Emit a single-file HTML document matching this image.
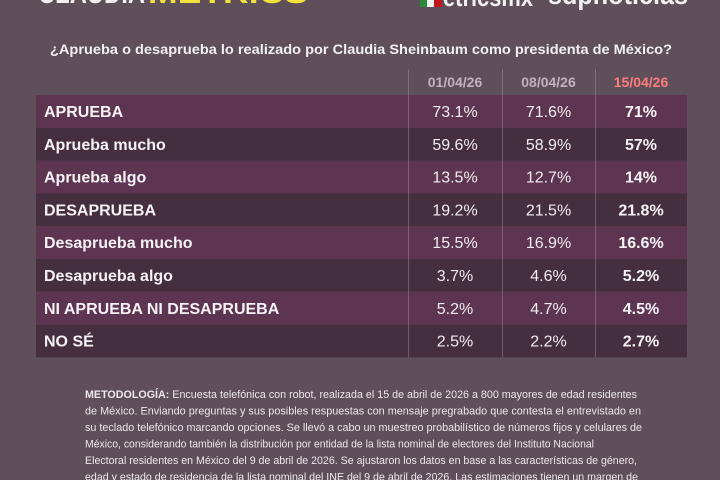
<!DOCTYPE html>
<html>
<head>
<meta charset="utf-8">
<style>
  html, body { margin:0; padding:0; background:#5e4f5b; }
  svg { display:block; }
  text { font-family: "Liberation Sans", Arial, sans-serif; }
</style>
</head>
<body>
<svg width="720" height="480" viewBox="0 0 720 480" xmlns="http://www.w3.org/2000/svg">
  <rect x="0" y="0" width="720" height="480" fill="#5e4f5b"/>

  <!-- top logos (cut off) -->
  <text x="38" y="3" font-size="30" font-weight="bold" fill="#f4f0f2" textLength="107" lengthAdjust="spacingAndGlyphs">CLAUDIA</text>
  <text x="148" y="3" font-size="30" font-weight="bold" fill="#f2e33c" textLength="160" lengthAdjust="spacingAndGlyphs">METRICS</text>
  <rect x="420" y="0" width="7" height="7" fill="#2a8a3e"/>
  <rect x="427" y="0" width="7" height="7" fill="#f2f2f2"/>
  <rect x="434" y="0" width="8" height="7" fill="#c0161d"/>
  <text x="443" y="6" font-size="26" font-weight="bold" fill="#f4f0f2" textLength="90" lengthAdjust="spacingAndGlyphs">etricsmx</text>
  <text x="548" y="4" font-size="28" font-weight="bold" fill="#f4f0f2" textLength="140" lengthAdjust="spacingAndGlyphs">sdpnoticias</text>

  <!-- title -->
  <text x="361" y="54" font-size="14" font-weight="bold" fill="#f3eff2" text-anchor="middle" textLength="622" lengthAdjust="spacingAndGlyphs">¿Aprueba o desaprueba lo realizado por Claudia Sheinbaum como presidenta de México?</text>

  <!-- header dates -->
  <text x="455" y="87" font-size="14" font-weight="bold" fill="#c3b1bd" text-anchor="middle">01/04/26</text>
  <text x="548.5" y="87" font-size="14" font-weight="bold" fill="#c3b1bd" text-anchor="middle">08/04/26</text>
  <text x="641" y="87" font-size="14" font-weight="bold" fill="#ff7c7c" text-anchor="middle">15/04/26</text>

  <!-- rows -->
  <g>
    <rect x="36" y="95" width="651" height="32.8" fill="#5d3550"/>
    <rect x="36" y="127.8" width="651" height="32.8" fill="#452f3f"/>
    <rect x="36" y="160.6" width="651" height="32.8" fill="#5d3550"/>
    <rect x="36" y="193.4" width="651" height="32.8" fill="#452f3f"/>
    <rect x="36" y="226.2" width="651" height="32.8" fill="#5d3550"/>
    <rect x="36" y="259" width="651" height="32.8" fill="#452f3f"/>
    <rect x="36" y="291.8" width="651" height="32.8" fill="#5d3550"/>
    <rect x="36" y="324.6" width="651" height="32.8" fill="#452f3f"/>
  </g>

  <!-- vertical dividers -->
  <g stroke="#a592a0" stroke-width="1" opacity="0.45">
    <line x1="408.5" y1="69" x2="408.5" y2="357.4"/>
    <line x1="502.5" y1="69" x2="502.5" y2="357.4"/>
    <line x1="595.5" y1="69" x2="595.5" y2="357.4"/>
  </g>

  <!-- labels -->
  <g font-size="16" font-weight="bold" fill="#f6f2f5">
    <text x="44" y="117">APRUEBA</text>
    <text x="44" y="149.8">Aprueba mucho</text>
    <text x="44" y="182.6">Aprueba algo</text>
    <text x="44" y="215.4">DESAPRUEBA</text>
    <text x="44" y="248.2">Desaprueba mucho</text>
    <text x="44" y="281">Desaprueba algo</text>
    <text x="44" y="313.8">NI APRUEBA NI DESAPRUEBA</text>
    <text x="44" y="346.6">NO SÉ</text>
  </g>

  <!-- column 1 -->
  <g font-size="16" fill="#f2ecf0" text-anchor="middle">
    <text x="455" y="117">73.1%</text>
    <text x="455" y="149.8">59.6%</text>
    <text x="455" y="182.6">13.5%</text>
    <text x="455" y="215.4">19.2%</text>
    <text x="455" y="248.2">15.5%</text>
    <text x="455" y="281">3.7%</text>
    <text x="455" y="313.8">5.2%</text>
    <text x="455" y="346.6">2.5%</text>
  </g>
  <!-- column 2 -->
  <g font-size="16" fill="#f2ecf0" text-anchor="middle">
    <text x="548.5" y="117">71.6%</text>
    <text x="548.5" y="149.8">58.9%</text>
    <text x="548.5" y="182.6">12.7%</text>
    <text x="548.5" y="215.4">21.5%</text>
    <text x="548.5" y="248.2">16.9%</text>
    <text x="548.5" y="281">4.6%</text>
    <text x="548.5" y="313.8">4.7%</text>
    <text x="548.5" y="346.6">2.2%</text>
  </g>
  <!-- column 3 -->
  <g font-size="16" font-weight="bold" fill="#f6f2f5" text-anchor="middle">
    <text x="641" y="117">71%</text>
    <text x="641" y="149.8">57%</text>
    <text x="641" y="182.6">14%</text>
    <text x="641" y="215.4">21.8%</text>
    <text x="641" y="248.2">16.6%</text>
    <text x="641" y="281">5.2%</text>
    <text x="641" y="313.8">4.5%</text>
    <text x="641" y="346.6">2.7%</text>
  </g>

  <!-- methodology -->
  <g font-size="11.2" fill="#eee7ec">
    <text x="85" y="398" textLength="552" lengthAdjust="spacingAndGlyphs"><tspan font-weight="bold">METODOLOGÍA:</tspan> Encuesta telefónica con robot, realizada el 15 de abril de 2026 a 800 mayores de edad residentes</text>
    <text x="85" y="414.5" textLength="556" lengthAdjust="spacingAndGlyphs">de México. Enviando preguntas y sus posibles respuestas con mensaje pregrabado que contesta el entrevistado en</text>
    <text x="85" y="431" textLength="557" lengthAdjust="spacingAndGlyphs">su teclado telefónico marcando opciones. Se llevó a cabo un muestreo probabilístico de números fijos y celulares de</text>
    <text x="85" y="447.5" textLength="509" lengthAdjust="spacingAndGlyphs">México, considerando también la distribución por entidad de la lista nominal de electores del Instituto Nacional</text>
    <text x="85" y="464" textLength="552" lengthAdjust="spacingAndGlyphs">Electoral residentes en México del 9 de abril de 2026. Se ajustaron los datos en base a las características de género,</text>
    <text x="85" y="480.5" textLength="553" lengthAdjust="spacingAndGlyphs">edad y estado de residencia de la lista nominal del INE del 9 de abril de 2026. Las estimaciones tienen un margen de</text>
  </g>
</svg>
</body>
</html>
